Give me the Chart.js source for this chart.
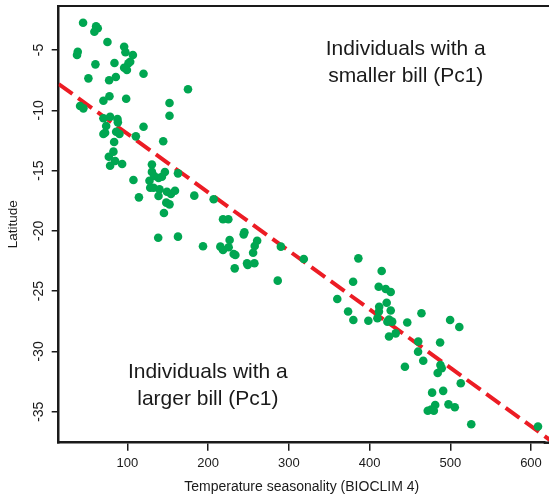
<!DOCTYPE html>
<html><head><meta charset="utf-8">
<script src="https://cdn.jsdelivr.net/npm/chart.js@4/dist/chart.umd.min.js"></script>
<style>html,body{margin:0;padding:0;background:#fff;}canvas{display:block;}</style>
</head><body>
<canvas id="c" width="549" height="494"></canvas>
<script>
// Temperature seasonality (BIOCLIM 4) per individual
const seasonality = [
  45.0,61.1,63.2,59.0,75.2,38.4,37.5,95.9,97.5,106.7,
  103.4,101.2,95.9,99.3,60.3,83.9,119.9,51.6,77.3,85.6,
  175.0,77.7,70.2,98.4,152.1,152.1,41.3,45.4,78.5,70.2,
  87.6,88.1,73.6,86.0,90.1,72.3,70.2,119.9,110.4,83.5,
  144.3,76.9,82.6,84.7,78.5,93.4,
  130.3,130.3,107.4,127.3,133.2,138.5,142.7,146.4,128.2,132.3,
  139.7,162.6,114.2,138.5,148.9,153.9,158.9,148.1,152.1,145.2,
  182.8,206.8,218.4,225.0,138.1,162.6,193.6,215.1,218.4,225.4,
  226.6,231.6,233.7,244.0,244.9,260.7,257.7,255.7,248.2,249.0,
  257.3,232.9,286.2,290.1,318.5,
  386.1,415.0,379.6,360.0,373.4,379.9,398.5,411.3,420.0,426.2,
  421.2,426.2,411.9,411.6,409.7,424.1,428.0,422.1,424.1,432.4,
  446.7,464.3,499.8,511.2,460.3,487.4,460.1,466.5,443.8,487.8,
  489.4,484.4,513.0,477.5,491.2,481.3,476.4,472.1,479.6,497.8,
  505.6,526.0,608.7
];
// Latitude per individual
const latitude = [
  -2.74,-3.04,-3.20,-3.48,-4.34,-5.14,-5.41,-4.73,-5.19,-5.41,
  -5.97,-6.10,-6.47,-6.66,-6.19,-6.08,-6.97,-7.35,-7.51,-7.24,
  -8.26,-8.84,-9.21,-9.04,-9.40,-10.45,-9.64,-9.84,-10.53,-10.66,
  -10.72,-11.00,-11.30,-11.78,-11.97,-11.86,-11.97,-11.36,-12.16,-12.63,
  -12.57,-13.85,-13.43,-14.21,-14.60,-14.46,
  -14.49,-15.11,-15.78,-15.84,-15.45,-15.62,-15.51,-15.12,-16.42,-16.42,
  -16.55,-15.23,-17.22,-17.11,-16.75,-16.94,-16.67,-17.66,-17.80,-18.52,
  -17.08,-17.38,-19.04,-19.04,-20.57,-20.48,-21.28,-21.31,-21.59,-21.36,
  -20.76,-21.92,-22.00,-20.29,-20.12,-20.82,-21.26,-21.81,-22.69,-22.83,
  -22.69,-23.11,-24.13,-21.31,-22.33,
  -22.28,-23.33,-24.22,-25.65,-26.69,-27.39,-27.45,-24.63,-24.82,-25.07,
  -25.96,-26.61,-26.29,-26.69,-27.25,-27.35,-27.53,-27.53,-28.76,-28.50,
  -27.60,-26.83,-27.39,-27.97,-29.18,-29.26,-30.02,-30.77,-31.27,-31.13,
  -31.40,-31.79,-32.64,-33.42,-33.27,-34.44,-34.82,-34.92,-34.92,-34.39,
  -34.63,-36.04,-36.23
];
// Fitted regression line end points
const fitX = [14.8, 623.6];
const fitY = [-7.82, -37.35];
// Tick labels
const xTicks = [100, 200, 300, 400, 500, 600];
const yTicks = [-35, -30, -25, -20, -15, -10, -5];
// Annotation texts
const noteUpper = ["Individuals with a", "smaller bill (Pc1)"];
const noteLower = ["Individuals with a", "larger bill (Pc1)"];

const FONT = '"Liberation Sans", Arial, Helvetica, sans-serif';
const INK = '#1a1a1a';
const zeroPad = s => { s.paddingLeft = 0; s.paddingRight = 0; s.paddingTop = 0; s.paddingBottom = 0; };

// Frame: top border across the plot, and the bottom axis carried to the canvas edge
const framePlugin = {
  id: 'frame',
  afterDraw(chart) {
    const {ctx, chartArea, width} = chart;
    ctx.save();
    ctx.strokeStyle = INK;
    ctx.lineWidth = 2;
    ctx.beginPath();
    ctx.moveTo(chartArea.left - 1, chartArea.top);
    ctx.lineTo(width, chartArea.top);
    ctx.stroke();
    ctx.lineWidth = 2.5;
    ctx.beginPath();
    ctx.moveTo(chartArea.right - 1, chartArea.bottom);
    ctx.lineTo(width, chartArea.bottom);
    ctx.stroke();
    ctx.restore();
  }
};

const notesPlugin = {
  id: 'notes',
  afterDatasetsDraw(chart, args, opts) {
    const {ctx} = chart;
    const xs = chart.scales.x, ys = chart.scales.y;
    ctx.save();
    ctx.fillStyle = INK;
    ctx.font = opts.size + 'px ' + FONT;
    ctx.textAlign = 'center';
    ctx.textBaseline = 'alphabetic';
    opts.items.forEach(it => {
      it.lines.forEach((ln, i) => {
        ctx.fillText(ln, xs.getPixelForValue(it.x), ys.getPixelForValue(it.y[i]));
      });
    });
    ctx.restore();
  }
};

new Chart(document.getElementById('c'), {
  type: 'scatter',
  data: {
    datasets: [
      {
        label: 'Individuals',
        data: seasonality.map((v, i) => ({x: v, y: latitude[i]})),
        backgroundColor: '#00a651',
        borderWidth: 0,
        pointRadius: 4.3,
        order: 0
      },
      {
        type: 'line',
        label: 'Fit',
        data: fitX.map((v, i) => ({x: v, y: fitY[i]})),
        borderColor: '#ec1c24',
        borderWidth: 4,
        borderDash: [17, 7],
        borderCapStyle: 'butt',
        pointRadius: 0,
        fill: false,
        clip: {left: 0, top: 0, right: 8, bottom: 0},
        order: 1
      }
    ]
  },
  options: {
    responsive: false,
    animation: false,
    devicePixelRatio: 1,
    layout: {padding: {top: 6, right: 0, bottom: 0, left: 0}},
    plugins: {
      legend: {display: false},
      tooltip: {enabled: false},
      notes: {
        size: 21,
        items: [
          {lines: noteUpper, x: 444.8, y: [-5.41, -7.63]},
          {lines: noteLower, x: 199.6, y: [-32.23, -34.44]}
        ]
      }
    },
    scales: {
      x: {
        type: 'linear',
        min: 14.8, max: 617.0,
        afterBuildTicks: s => { s.ticks = xTicks.map(v => ({value: v})); },
        afterFit: s => { s.height = 51.3; zeroPad(s); },
        ticks: {color: INK, font: {family: FONT, size: 13, lineHeight: 1.9}, padding: 0},
        grid: {display: true, drawOnChartArea: false, drawTicks: true, tickLength: 8, color: INK, lineWidth: 1.5},
        border: {display: true, color: INK, width: 2.5},
        title: {display: true, text: 'Temperature seasonality (BIOCLIM 4)', color: INK,
                font: {family: FONT, size: 14, lineHeight: 1}, padding: {top: 0, bottom: 0}}
      },
      y: {
        type: 'linear',
        min: -37.57, max: -1.35,
        afterBuildTicks: s => { s.ticks = yTicks.map(v => ({value: v})); },
        afterFit: s => { s.width = 58.7; zeroPad(s); },
        ticks: {color: INK, font: {family: FONT, size: 14}, padding: 2, minRotation: 90, maxRotation: 90, crossAlign: 'center'},
        grid: {display: true, drawOnChartArea: false, drawTicks: true, tickLength: 7, color: INK, lineWidth: 1.5},
        border: {display: true, color: INK, width: 2.5},
        title: {display: true, text: 'Latitude', color: INK,
                font: {family: FONT, size: 13.5, lineHeight: 1}, padding: {top: 6.5, bottom: 0}}
      }
    }
  },
  plugins: [framePlugin, notesPlugin]
});
</script>
</body></html>
